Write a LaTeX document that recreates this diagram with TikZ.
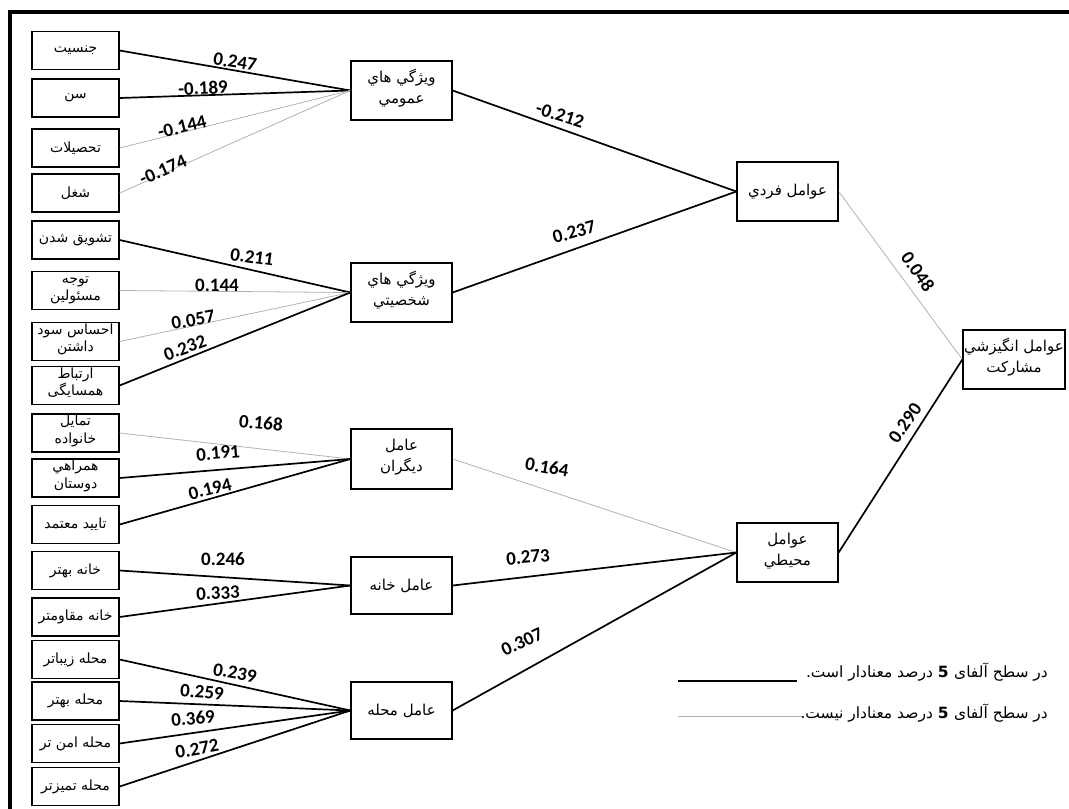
\documentclass[tikz,border=0pt]{standalone}
\usepackage{fontspec}
\newfontfamily\arabicfont[Script=Arabic]{DejaVu Sans}
\newfontfamily\numfont{Carlito}
\TeXXeTstate=1
\newcommand{\rtltext}[1]{\beginR #1\endR}
\newcommand{\twolines}[2]{\raisebox{-3pt}{\smash{\begin{tabular}{@{}c@{}}\rtltext{#1}\\\rtltext{#2}\end{tabular}}}}
\begin{document}
\begin{tikzpicture}[x=1pt,y=-1pt,
  lbox/.style={draw, line width=1.3pt, minimum width=87pt, minimum height=38pt, inner sep=0pt, align=center, font=\arabicfont\fontsize{14}{17.5}\selectfont},
  mbox/.style={draw, line width=1.3pt, minimum width=101pt, minimum height=59pt, inner sep=0pt, align=center, font=\arabicfont\fontsize{15}{21}\selectfont},
  sig/.style={line width=1.7pt, black},
  nsig/.style={line width=0.8pt, draw=gray!60},
  coef/.style={font=\numfont\bfseries\fontsize{19}{19}\selectfont, inner sep=0pt},
  legtext/.style={font=\arabicfont\fontsize{15.5}{18}\selectfont, inner sep=0pt, anchor=east}]
\useasboundingbox (0,0) rectangle (1069,809);
% frame
\draw[line width=4pt] (10,809) -- (10,12) -- (1069,12);
% left boxes
\node[lbox] (a1) at (75.5,50.5) {\rtltext{جنسیت}};
\node[lbox] (a2) at (75.5,98) {\rtltext{سن}};
\node[lbox] (a3) at (75.5,148) {\rtltext{تحصیلات}};
\node[lbox] (a4) at (75.5,193) {\rtltext{شغل}};
\node[lbox] (b1) at (75.5,240) {\rtltext{تشویق شدن}};
\node[lbox] (b2) at (75.5,290.5) {\twolines{توجه}{مسئولین}};
\node[lbox] (b3) at (75.5,341.5) {\twolines{احساس سود}{داشتن}};
\node[lbox] (b4) at (75.5,385.5) {\twolines{ارتباط}{همسایگی}};
\node[lbox] (c1) at (75.5,433) {\twolines{تمایل}{خانواده}};
\node[lbox] (c2) at (75.5,478) {\twolines{همراهي}{دوستان}};
\node[lbox] (c3) at (75.5,524.5) {\rtltext{تایید معتمد}};
\node[lbox] (d1) at (75.5,570.5) {\rtltext{خانه بهتر}};
\node[lbox] (d2) at (75.5,617) {\rtltext{خانه مقاومتر}};
\node[lbox] (e1) at (75.5,659.5) {\rtltext{محله زیباتر}};
\node[lbox] (e2) at (75.5,701) {\rtltext{محله بهتر}};
\node[lbox] (e3) at (75.5,743.5) {\rtltext{محله امن تر}};
\node[lbox] (e4) at (75.5,786.5) {\rtltext{محله تمیزتر}};
% middle boxes
\node[mbox] (ma) at (401.5,90.5) {\twolines{ويژگي هاي}{عمومي}};
\node[mbox] (mb) at (401.5,292.5) {\twolines{ويژگي هاي}{شخصيتي}};
\node[mbox, minimum height=60pt] (mc) at (401.5,459) {\twolines{عامل}{ديگران}};
\node[mbox, minimum height=57pt] (md) at (401.5,585.5) {\rtltext{عامل خانه}};
\node[mbox, minimum height=57pt] (me) at (401.5,710.5) {\rtltext{عامل محله}};
% right boxes
\node[mbox] (ri) at (787.5,191.5) {\rtltext{عوامل فردي}};
\node[mbox] (re) at (787.5,552.5) {\twolines{عوامل}{محيطي}};
\node[mbox, minimum width=102pt] (fin) at (1014,359.5) {\twolines{عوامل انگيزشي}{مشاركت}};
% connectors group a
\draw[sig] (a1.east) -- (ma.west);
\draw[sig] (a2.east) -- (ma.west);
\draw[nsig] (a3.east) -- (ma.west);
\draw[nsig] (a4.east) -- (ma.west);
% group b
\draw[sig] (b1.east) -- (mb.west);
\draw[nsig] (b2.east) -- (mb.west);
\draw[nsig] (b3.east) -- (mb.west);
\draw[sig] (b4.east) -- (mb.west);
% group c
\draw[nsig] (c1.east) -- (mc.west);
\draw[sig] (c2.east) -- (mc.west);
\draw[sig] (c3.east) -- (mc.west);
% group d
\draw[sig] (d1.east) -- (md.west);
\draw[sig] (d2.east) -- (md.west);
% group e
\draw[sig] (e1.east) -- (me.west);
\draw[sig] (e2.east) -- (me.west);
\draw[sig] (e3.east) -- (me.west);
\draw[sig] (e4.east) -- (me.west);
% middle to right
\draw[sig] (ma.east) -- (ri.west);
\draw[sig] (mb.east) -- (ri.west);
\draw[nsig] (mc.east) -- (re.west);
\draw[sig] (md.east) -- (re.west);
\draw[sig] (me.east) -- (re.west);
\draw[nsig] (ri.east) -- (fin.west);
\draw[sig] (re.east) -- (fin.west);
% coefficients
\node[coef, rotate=-9] (l1) at (235,62) {0.247};
\node[coef, rotate=3] (l2) at (203,88) {-0.189};
\node[coef, rotate=14] (l3) at (182,127) {-0.144};
\node[coef, rotate=24] (l4) at (163,170) {-0.174};
\node[coef, rotate=-8] (l5) at (252,257) {0.211};
\node[coef] (l6) at (217,285) {0.144};
\node[coef, rotate=10] (l7) at (193,320) {0.057};
\node[coef, rotate=20] (l8) at (185,348) {0.232};
\node[coef, rotate=-5] (l9) at (261,423) {0.168};
\node[coef, rotate=5] (l10) at (218,453) {0.191};
\node[coef, rotate=14] (l11) at (210,489) {0.194};
\node[coef] (l12) at (223,559) {0.246};
\node[coef, rotate=3] (l13) at (218,593) {0.333};
\node[coef, rotate=-10] (l14) at (235,673) {0.239};
\node[coef, rotate=-4] (l15) at (202,692) {0.259};
\node[coef, rotate=5] (l16) at (193,718) {0.369};
\node[coef, rotate=10] (l17) at (197,749) {0.272};
\node[coef, rotate=-18] (l18) at (560,115) {-0.212};
\node[coef, rotate=15] (l19) at (574,232) {0.237};
\node[coef, rotate=-10] (l20) at (547,467) {0.164};
\node[coef, rotate=5] (l21) at (528,557) {0.273};
\node[coef, rotate=25] (l22) at (522,642) {0.307};
\node[coef, rotate=-55] (l23) at (918,272) {0.048};
\node[coef, rotate=55] (l24) at (905,423) {0.290};
% legend
\coordinate (g1a) at (678,681);
\coordinate (g1b) at (797,681);
\coordinate (g2a) at (678,716);
\coordinate (g2b) at (803,716);
\draw[sig] (g1a) -- (g1b);
\draw[nsig] (g2a) -- (g2b);
\node[legtext] (t1) at (1048,672) {\rtltext{در سطح آلفای \textbf{5} درصد معنادار است.}};
\node[legtext] (t2) at (1048,713) {\rtltext{در سطح آلفای \textbf{5} درصد معنادار نیست.}};
\end{tikzpicture}
\end{document}
